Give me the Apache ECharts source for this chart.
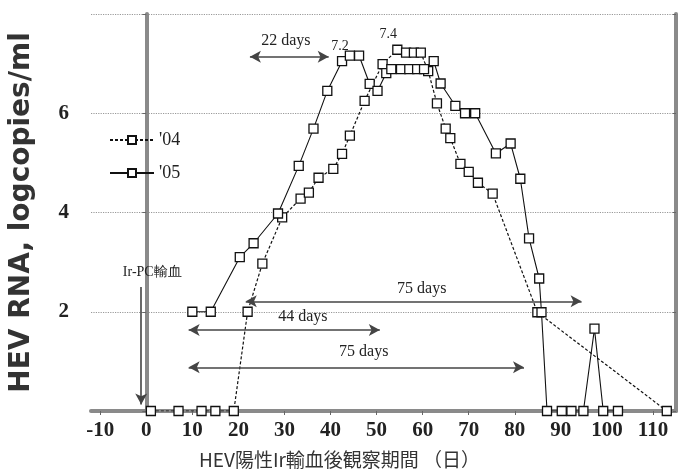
<!DOCTYPE html>
<html>
<head>
<meta charset="utf-8">
<script src="https://cdn.jsdelivr.net/npm/echarts@6/dist/echarts.min.js"></script>
<style>
html,body{margin:0;padding:0;background:#fff;}
#c{width:691px;height:476px;}
</style>
</head>
<body>
<div id="c"></div>
<script>
// ---- data ----
const series05X = [10, 14, 20.3, 23.3, 28.6, 33.1, 36.3, 39.3, 42.5, 44.2, 46.2, 48.5, 50.2, 52.1, 53.2, 55.3, 57.1, 58.8, 60.3, 62.4, 63.9, 67.1, 69.2, 71.4, 75.9, 79.1, 81.2, 83.1, 85.3, 85.8, 87, 90.2, 92.3, 94.9, 97.3, 99.2, 102.4];
const series05Y = [2.0, 2.0, 3.1, 3.38, 3.98, 4.94, 5.69, 6.45, 7.05, 7.16, 7.16, 6.59, 6.45, 6.81, 6.89, 6.89, 6.89, 6.89, 6.89, 7.05, 6.6, 6.15, 6.0, 6.0, 5.19, 5.39, 4.68, 3.48, 2.67, 1.99, 0, 0, 0, 0, 1.66, 0, 0];
const series04X = [1, 7, 12, 15, 19, 22, 25.2, 29.5, 33.5, 35.3, 37.4, 40.6, 42.5, 44.2, 47.4, 51.3, 54.5, 56.4, 58.1, 59.6, 61.2, 63.1, 65, 66, 68.2, 70, 72, 75.2, 84.9, 113];
const series04Y = [0, 0, 0, 0, 0, 2.0, 2.97, 3.9, 4.28, 4.4, 4.7, 4.88, 5.18, 5.55, 6.25, 6.99, 7.28, 7.22, 7.22, 7.22, 6.85, 6.2, 5.69, 5.5, 4.98, 4.82, 4.6, 4.38, 1.99, 0];
const seriesNames = ["'04", "'05"];
const xTickLabels = [-10, 0, 10, 20, 30, 40, 50, 60, 70, 80, 90, 100, 110];
const yTickLabels = [2, 4, 6];
const peakLabel05 = {index: 8, text: '7.2'};
const peakLabel04 = {index: 16, text: '7.4'};
// annotation arrows: [x1, y1, x2, y2]
const arrows = [
  [22.5, 7.14, 39.6, 7.14],
  [21.6, 2.21, 94.5, 2.21],
  [9.2, 1.63, 50.7, 1.63],
  [9.2, 0.88, 82.0, 0.88]
];
const arrowPC = [-1.1, 2.5, -1.1, 0.13];
// annotation texts: [x, y, text]
const notes = [
  [30.3, 7.46, '22 days'],
  [59.8, 2.47, '75 days'],
  [34.0, 1.89, '44 days'],
  [47.2, 1.19, '75 days'],
  [1.3, 2.79, 'Ir-PC輸血']
];

function zip(xs, ys) { return xs.map((x, i) => [x, ys[i]]); }

const data05 = zip(series05X, series05Y).map((p, i) => i === peakLabel05.index ?
  {value: p, label: {show: true, formatter: peakLabel05.text, position: 'top', distance: 3, offset: [-2, 0],
    fontFamily: 'Liberation Serif', fontSize: 14, color: '#222'}} : p);
const data04 = zip(series04X, series04Y).map((p, i) => i === peakLabel04.index ?
  {value: p, label: {show: true, formatter: peakLabel04.text, position: 'top', distance: 3, offset: [-9, 0],
    fontFamily: 'Liberation Serif', fontSize: 14, color: '#222'}} : p);

const chart = echarts.init(document.getElementById('c'), null, {renderer: 'canvas'});

const markerStyle = {color: '#fff', borderColor: '#111', borderWidth: 1.3};
const serifTick = {fontFamily: 'Liberation Serif', fontWeight: 'bold', fontSize: 21, color: '#222'};

const option = {
  backgroundColor: '#fff',
  animation: false,
  grid: {left: 82, right: 15, top: 14, bottom: 65, containLabel: false},
  legend: {
    data: seriesNames,
    orient: 'vertical',
    left: 104,
    top: 126,
    itemWidth: 44,
    itemHeight: 10,
    itemGap: 15,
    textStyle: {fontFamily: 'Liberation Serif', fontSize: 18, color: '#222'}
  },
  xAxis: {
    type: 'value',
    min: -12,
    max: 115,
    name: 'HEV陽性Ir輸血後観察期間 （日）',
    nameLocation: 'middle',
    nameGap: 39,
    nameTextStyle: {fontFamily: 'Noto Sans CJK JP', fontSize: 19, color: '#333', padding: [0, 88, 0, 0]},
    axisLine: {show: true, onZero: false, lineStyle: {color: '#8a8a8a', width: 4}},
    axisTick: {show: true, customValues: xTickLabels, length: 4, lineStyle: {color: '#666', width: 1}},
    axisLabel: Object.assign({customValues: xTickLabels, margin: 9}, serifTick),
    splitLine: {show: false}
  },
  yAxis: [{
    type: 'value',
    min: 0,
    max: 8,
    interval: 2,
    name: 'HEV RNA, logcopies/ml',
    nameLocation: 'middle',
    nameGap: 55,
    nameTextStyle: {fontFamily: 'DejaVu Sans', fontWeight: 'bold', fontSize: 28, color: '#333'},
    axisLine: {show: true, lineStyle: {color: '#8a8a8a', width: 4}},
    axisTick: {show: true, length: 4, lineStyle: {color: '#666'}},
    axisLabel: Object.assign({customValues: yTickLabels, margin: 22}, serifTick),
    splitLine: {show: true, lineStyle: {color: '#999', type: 'dotted', width: 1.2}}
  }, {
    type: 'value',
    min: 0,
    max: 8,
    interval: 2,
    position: 'right',
    axisLine: {show: true, lineStyle: {color: '#8a8a8a', width: 4}},
    axisTick: {show: true, length: 3, inside: true, lineStyle: {color: '#666'}},
    axisLabel: {show: false},
    splitLine: {show: false}
  }],
  series: [
    {
      name: seriesNames[0],
      type: 'line',
      data: data04,
      symbol: 'rect',
      symbolSize: 9,
      showAllSymbol: true,
      lineStyle: {color: '#111', width: 1.2, type: [3, 2]},
      itemStyle: markerStyle,
      z: 4
    },
    {
      name: seriesNames[1],
      type: 'line',
      data: data05,
      symbol: 'rect',
      symbolSize: 9,
      showAllSymbol: true,
      lineStyle: {color: '#111', width: 1.1},
      itemStyle: markerStyle,
      z: 5
    },
    {
      name: 'notes',
      type: 'line',
      data: [],
      silent: true,
      markLine: {
        silent: true,
        symbol: ['arrow', 'arrow'],
        symbolSize: [9, 11],
        label: {show: false},
        lineStyle: {color: '#444', width: 1.6, type: 'solid'},
        data: arrows.map(a => [{coord: [a[0], a[1]]}, {coord: [a[2], a[3]]}]).concat([
          [{coord: [arrowPC[0], arrowPC[1]], symbol: 'none'}, {coord: [arrowPC[2], arrowPC[3]], symbol: 'arrow'}]
        ])
      },
      markPoint: {
        silent: true,
        symbol: 'circle',
        symbolSize: 0,
        label: {show: true, position: 'inside', fontFamily: 'Liberation Serif', fontSize: 16, color: '#222'},
        data: notes.map(n => ({coord: [n[0], n[1]], value: n[2],
          label: {formatter: n[2], fontSize: n[2].indexOf('Ir') === 0 ? 14 : 16}}))
      }
    }
  ]
};
chart.setOption(option);
</script>
</body>
</html>
